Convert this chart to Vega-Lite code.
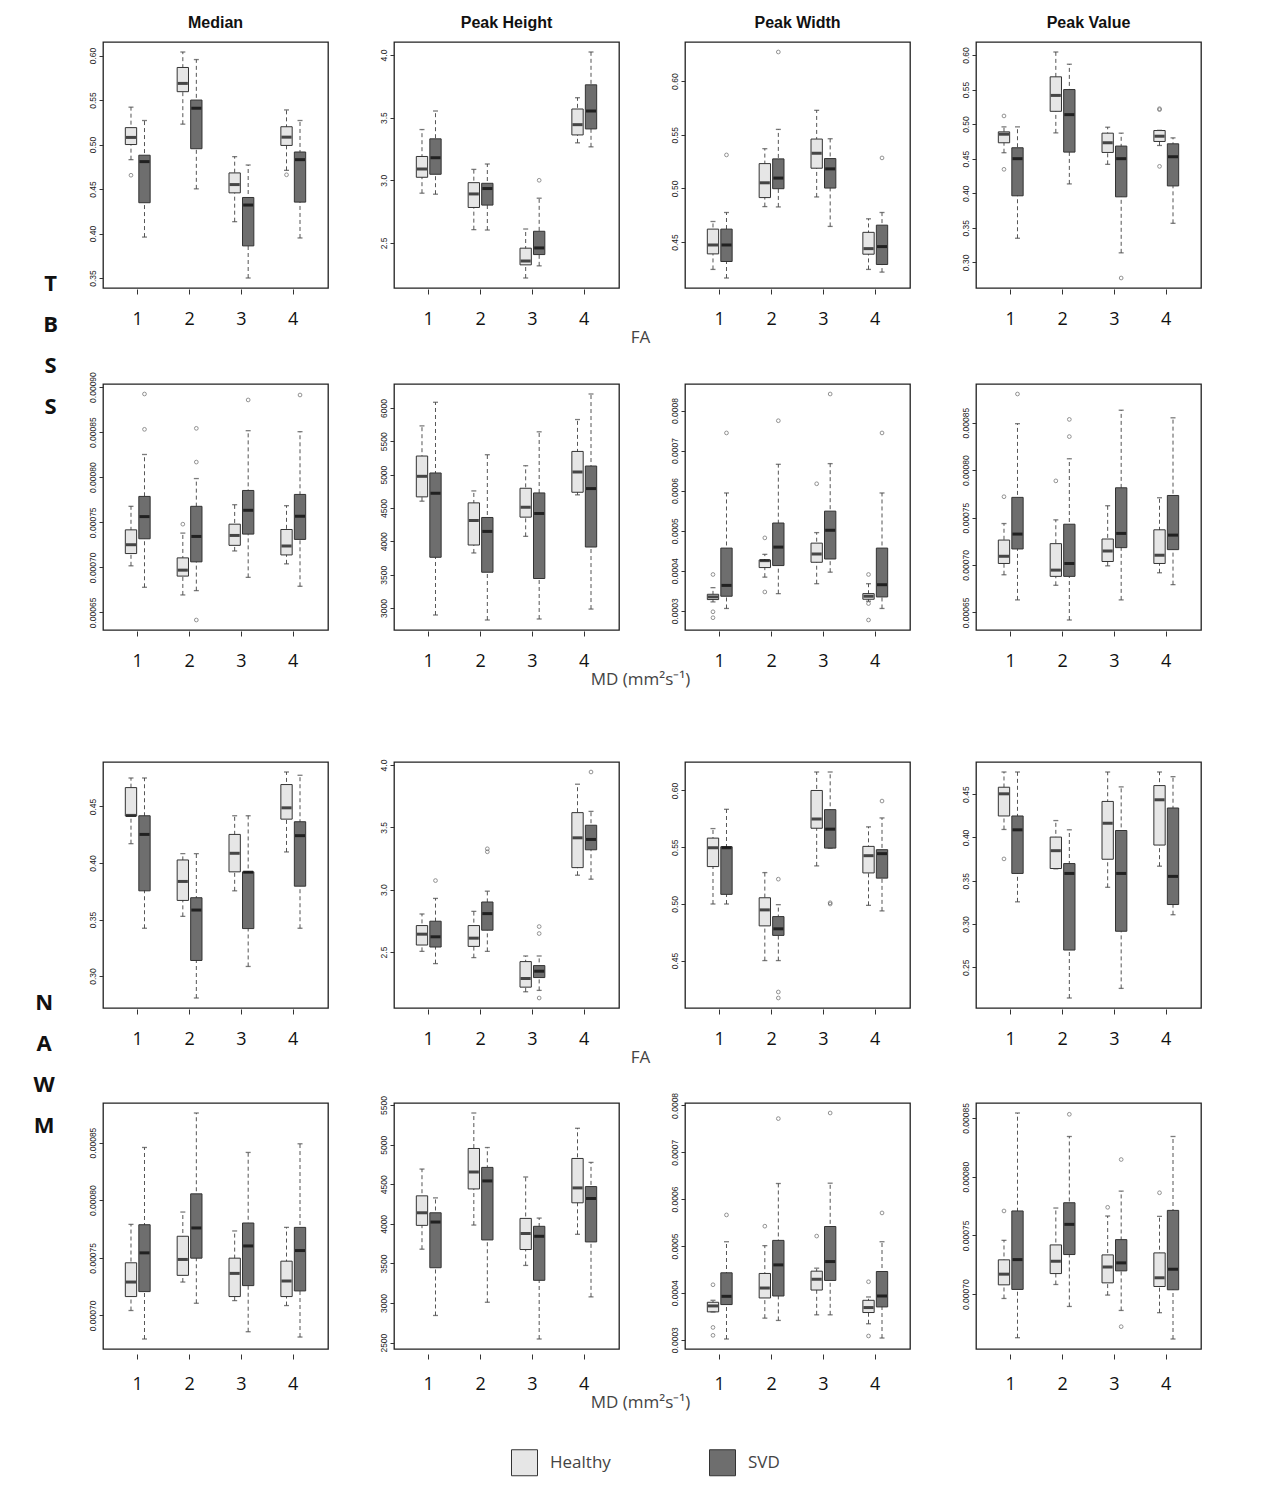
{
"$schema": "https://vega.github.io/schema/vega-lite/v6.json",
"padding": {"left": 33, "top": 15, "right": 5, "bottom": 5},
"background": "white",
"config": {
  "view": {"stroke": "#222", "strokeWidth": 1.3},
  "axisX": {"labelFontSize": 18, "labelFont": "Open Sans", "labelColor": "#111", "labelAngle": 0, "tickSize": 5, "tickColor": "#333", "domain": false, "labelPadding": 16, "grid": false},
  "axisY": {"labelFontSize": 8.5, "labelFont": "Liberation Sans", "labelColor": "#222", "labelAngle": -90, "labelAlign": "center", "labelBaseline": "bottom", "tickSize": 4, "tickColor": "#333", "domain": false, "grid": false, "labelPadding": 2, "tickCount": 6}
},
"datasets": {"d": [
{"a":"TBSS","m":"FA","f":"Median","g":"1","c":"Healthy","lo":0.483,"q1":0.5,"md":0.508,"q3":0.519,"hi":0.542},
{"a":"TBSS","m":"FA","f":"Median","g":"1","c":"SVD","lo":0.396,"q1":0.4346,"md":0.4808,"q3":0.488,"hi":0.527},
{"a":"TBSS","m":"FA","f":"Median","g":"2","c":"Healthy","lo":0.5229,"q1":0.5594,"md":0.5687,"q3":0.5866,"hi":0.604},
{"a":"TBSS","m":"FA","f":"Median","g":"2","c":"SVD","lo":0.4502,"q1":0.4953,"md":0.5408,"q3":0.55,"hi":0.5955},
{"a":"TBSS","m":"FA","f":"Median","g":"3","c":"Healthy","lo":0.4133,"q1":0.4457,"md":0.455,"q3":0.4681,"hi":0.4864},
{"a":"TBSS","m":"FA","f":"Median","g":"3","c":"SVD","lo":0.35,"q1":0.3861,"md":0.432,"q3":0.4405,"hi":0.477},
{"a":"TBSS","m":"FA","f":"Median","g":"4","c":"Healthy","lo":0.471,"q1":0.499,"md":0.5083,"q3":0.52,"hi":0.5389},
{"a":"TBSS","m":"FA","f":"Median","g":"4","c":"SVD","lo":0.395,"q1":0.4353,"md":0.483,"q3":0.4916,"hi":0.527},
{"a":"TBSS","m":"FA","f":"Peak Height","g":"1","c":"Healthy","lo":2.897,"q1":3.024,"md":3.09,"q3":3.19,"hi":3.405},
{"a":"TBSS","m":"FA","f":"Peak Height","g":"1","c":"SVD","lo":2.889,"q1":3.048,"md":3.18,"q3":3.331,"hi":3.553},
{"a":"TBSS","m":"FA","f":"Peak Height","g":"2","c":"Healthy","lo":2.606,"q1":2.783,"md":2.891,"q3":2.981,"hi":3.087},
{"a":"TBSS","m":"FA","f":"Peak Height","g":"2","c":"SVD","lo":2.603,"q1":2.802,"md":2.934,"q3":2.976,"hi":3.13},
{"a":"TBSS","m":"FA","f":"Peak Height","g":"3","c":"Healthy","lo":2.22,"q1":2.325,"md":2.355,"q3":2.458,"hi":2.611},
{"a":"TBSS","m":"FA","f":"Peak Height","g":"3","c":"SVD","lo":2.317,"q1":2.407,"md":2.46,"q3":2.593,"hi":2.857},
{"a":"TBSS","m":"FA","f":"Peak Height","g":"4","c":"Healthy","lo":3.299,"q1":3.362,"md":3.444,"q3":3.569,"hi":3.659},
{"a":"TBSS","m":"FA","f":"Peak Height","g":"4","c":"SVD","lo":3.267,"q1":3.41,"md":3.553,"q3":3.762,"hi":4.024},
{"a":"TBSS","m":"FA","f":"Peak Width","g":"1","c":"Healthy","lo":0.4244,"q1":0.4389,"md":0.4472,"q3":0.462,"hi":0.4691},
{"a":"TBSS","m":"FA","f":"Peak Width","g":"1","c":"SVD","lo":0.4164,"q1":0.4318,"md":0.4472,"q3":0.462,"hi":0.4775},
{"a":"TBSS","m":"FA","f":"Peak Width","g":"2","c":"Healthy","lo":0.483,"q1":0.4914,"md":0.5052,"q3":0.5231,"hi":0.537},
{"a":"TBSS","m":"FA","f":"Peak Width","g":"2","c":"SVD","lo":0.4827,"q1":0.4997,"md":0.5096,"q3":0.5275,"hi":0.555},
{"a":"TBSS","m":"FA","f":"Peak Width","g":"3","c":"Healthy","lo":0.492,"q1":0.5188,"md":0.5327,"q3":0.546,"hi":0.5728},
{"a":"TBSS","m":"FA","f":"Peak Width","g":"3","c":"SVD","lo":0.4645,"q1":0.5003,"md":0.5182,"q3":0.5278,"hi":0.5463},
{"a":"TBSS","m":"FA","f":"Peak Width","g":"4","c":"Healthy","lo":0.4244,"q1":0.4386,"md":0.4438,"q3":0.459,"hi":0.4716},
{"a":"TBSS","m":"FA","f":"Peak Width","g":"4","c":"SVD","lo":0.4219,"q1":0.429,"md":0.4457,"q3":0.4657,"hi":0.4775},
{"a":"TBSS","m":"FA","f":"Peak Value","g":"1","c":"Healthy","lo":0.4586,"q1":0.473,"md":0.4854,"q3":0.4888,"hi":0.496},
{"a":"TBSS","m":"FA","f":"Peak Value","g":"1","c":"SVD","lo":0.3349,"q1":0.3963,"md":0.45,"q3":0.4658,"hi":0.496},
{"a":"TBSS","m":"FA","f":"Peak Value","g":"2","c":"Healthy","lo":0.4873,"q1":0.5185,"md":0.5415,"q3":0.5684,"hi":0.6043},
{"a":"TBSS","m":"FA","f":"Peak Value","g":"2","c":"SVD","lo":0.4135,"q1":0.4595,"md":0.5137,"q3":0.55,"hi":0.5866},
{"a":"TBSS","m":"FA","f":"Peak Value","g":"3","c":"Healthy","lo":0.4418,"q1":0.459,"md":0.473,"q3":0.4869,"hi":0.4955},
{"a":"TBSS","m":"FA","f":"Peak Value","g":"3","c":"SVD","lo":0.3138,"q1":0.3948,"md":0.45,"q3":0.4682,"hi":0.4869},
{"a":"TBSS","m":"FA","f":"Peak Value","g":"4","c":"Healthy","lo":0.4691,"q1":0.4749,"md":0.4825,"q3":0.4907,"hi":0.491},
{"a":"TBSS","m":"FA","f":"Peak Value","g":"4","c":"SVD","lo":0.3565,"q1":0.4106,"md":0.4528,"q3":0.4715,"hi":0.4801},
{"a":"TBSS","m":"MD","f":"Median","g":"1","c":"Healthy","lo":0.0007017,"q1":0.0007153,"md":0.0007251,"q3":0.0007416,"hi":0.0007677},
{"a":"TBSS","m":"MD","f":"Median","g":"1","c":"SVD","lo":0.0006779,"q1":0.0007317,"md":0.0007563,"q3":0.0007787,"hi":0.0008252},
{"a":"TBSS","m":"MD","f":"Median","g":"2","c":"Healthy","lo":0.0006694,"q1":0.0006903,"md":0.0006969,"q3":0.0007105,"hi":0.000738},
{"a":"TBSS","m":"MD","f":"Median","g":"2","c":"SVD","lo":0.0006742,"q1":0.0007061,"md":0.0007343,"q3":0.0007677,"hi":0.0007985},
{"a":"TBSS","m":"MD","f":"Median","g":"3","c":"Healthy","lo":0.0007182,"q1":0.0007244,"md":0.0007354,"q3":0.0007479,"hi":0.0007695},
{"a":"TBSS","m":"MD","f":"Median","g":"3","c":"SVD","lo":0.0006889,"q1":0.0007369,"md":0.0007633,"q3":0.0007853,"hi":0.0008516},
{"a":"TBSS","m":"MD","f":"Median","g":"4","c":"Healthy","lo":0.0007039,"q1":0.0007138,"md":0.0007237,"q3":0.000742,"hi":0.0007684},
{"a":"TBSS","m":"MD","f":"Median","g":"4","c":"SVD","lo":0.000679,"q1":0.000731,"md":0.0007567,"q3":0.0007809,"hi":0.0008505},
{"a":"TBSS","m":"MD","f":"Peak Height","g":"1","c":"Healthy","lo":4602,"q1":4667,"md":4975,"q3":5279,"hi":5731},
{"a":"TBSS","m":"MD","f":"Peak Height","g":"1","c":"SVD","lo":2896,"q1":3761,"md":4721,"q3":5025,"hi":6085},
{"a":"TBSS","m":"MD","f":"Peak Height","g":"2","c":"Healthy","lo":3826,"q1":3945,"md":4313,"q3":4577,"hi":4756},
{"a":"TBSS","m":"MD","f":"Peak Height","g":"2","c":"SVD","lo":2821,"q1":3537,"md":4149,"q3":4358,"hi":5299},
{"a":"TBSS","m":"MD","f":"Peak Height","g":"3","c":"Healthy","lo":4075,"q1":4363,"md":4512,"q3":4796,"hi":5134},
{"a":"TBSS","m":"MD","f":"Peak Height","g":"3","c":"SVD","lo":2836,"q1":3443,"md":4418,"q3":4726,"hi":5642},
{"a":"TBSS","m":"MD","f":"Peak Height","g":"4","c":"Healthy","lo":4697,"q1":4736,"md":5040,"q3":5348,"hi":5826},
{"a":"TBSS","m":"MD","f":"Peak Height","g":"4","c":"SVD","lo":2985,"q1":3915,"md":4791,"q3":5129,"hi":6209},
{"a":"TBSS","m":"MD","f":"Peak Width","g":"1","c":"Healthy","lo":0.0003222,"q1":0.000328,"md":0.0003346,"q3":0.0003412,"hi":0.0003577},
{"a":"TBSS","m":"MD","f":"Peak Width","g":"1","c":"SVD","lo":0.0003058,"q1":0.0003363,"md":0.0003634,"q3":0.0004565,"hi":0.0005941},
{"a":"TBSS","m":"MD","f":"Peak Width","g":"2","c":"Healthy","lo":0.000384,"q1":0.0004079,"md":0.0004252,"q3":0.0004269,"hi":0.0004409},
{"a":"TBSS","m":"MD","f":"Peak Width","g":"2","c":"SVD","lo":0.0003428,"q1":0.0004129,"md":0.000459,"q3":0.0005191,"hi":0.0006657},
{"a":"TBSS","m":"MD","f":"Peak Width","g":"3","c":"Healthy","lo":0.0003676,"q1":0.0004211,"md":0.0004417,"q3":0.0004689,"hi":0.0004952},
{"a":"TBSS","m":"MD","f":"Peak Width","g":"3","c":"SVD","lo":0.0003964,"q1":0.0004293,"md":0.000501,"q3":0.0005488,"hi":0.0006674},
{"a":"TBSS","m":"MD","f":"Peak Width","g":"4","c":"Healthy","lo":0.0003239,"q1":0.0003288,"md":0.0003363,"q3":0.0003429,"hi":0.0003676},
{"a":"TBSS","m":"MD","f":"Peak Width","g":"4","c":"SVD","lo":0.0003058,"q1":0.0003346,"md":0.0003651,"q3":0.0004565,"hi":0.0005941},
{"a":"TBSS","m":"MD","f":"Peak Value","g":"1","c":"Healthy","lo":0.0006897,"q1":0.0007016,"md":0.0007092,"q3":0.0007263,"hi":0.0007437},
{"a":"TBSS","m":"MD","f":"Peak Value","g":"1","c":"SVD","lo":0.0006632,"q1":0.0007169,"md":0.0007326,"q3":0.0007713,"hi":0.000849},
{"a":"TBSS","m":"MD","f":"Peak Value","g":"2","c":"Healthy","lo":0.0006786,"q1":0.000688,"md":0.0006946,"q3":0.0007225,"hi":0.0007476},
{"a":"TBSS","m":"MD","f":"Peak Value","g":"2","c":"SVD","lo":0.000642,"q1":0.000688,"md":0.0007016,"q3":0.000743,"hi":0.000812},
{"a":"TBSS","m":"MD","f":"Peak Value","g":"3","c":"Healthy","lo":0.0006991,"q1":0.0007037,"md":0.0007148,"q3":0.0007274,"hi":0.0007625},
{"a":"TBSS","m":"MD","f":"Peak Value","g":"3","c":"SVD","lo":0.0006632,"q1":0.0007183,"md":0.0007333,"q3":0.0007814,"hi":0.0008632},
{"a":"TBSS","m":"MD","f":"Peak Value","g":"4","c":"Healthy","lo":0.0006918,"q1":0.0007016,"md":0.0007103,"q3":0.0007371,"hi":0.0007709},
{"a":"TBSS","m":"MD","f":"Peak Value","g":"4","c":"SVD","lo":0.0006793,"q1":0.0007162,"md":0.0007315,"q3":0.0007733,"hi":0.0008552},
{"a":"NAWM","m":"FA","f":"Median","g":"1","c":"Healthy","lo":0.4171,"q1":0.4415,"md":0.4421,"q3":0.4667,"hi":0.4752},
{"a":"NAWM","m":"FA","f":"Median","g":"1","c":"SVD","lo":0.3423,"q1":0.3754,"md":0.4253,"q3":0.4418,"hi":0.4752},
{"a":"NAWM","m":"FA","f":"Median","g":"2","c":"Healthy","lo":0.3528,"q1":0.3669,"md":0.3837,"q3":0.4027,"hi":0.4083},
{"a":"NAWM","m":"FA","f":"Median","g":"2","c":"SVD","lo":0.2806,"q1":0.3138,"md":0.3584,"q3":0.3693,"hi":0.4083},
{"a":"NAWM","m":"FA","f":"Median","g":"3","c":"Healthy","lo":0.3754,"q1":0.3922,"md":0.4086,"q3":0.4253,"hi":0.4418},
{"a":"NAWM","m":"FA","f":"Median","g":"3","c":"SVD","lo":0.3085,"q1":0.342,"md":0.3919,"q3":0.3922,"hi":0.4418},
{"a":"NAWM","m":"FA","f":"Median","g":"4","c":"Healthy","lo":0.4098,"q1":0.4388,"md":0.4488,"q3":0.4694,"hi":0.4805},
{"a":"NAWM","m":"FA","f":"Median","g":"4","c":"SVD","lo":0.3423,"q1":0.3795,"md":0.4242,"q3":0.4365,"hi":0.4776},
{"a":"NAWM","m":"FA","f":"Peak Height","g":"1","c":"Healthy","lo":2.505,"q1":2.556,"md":2.643,"q3":2.712,"hi":2.805},
{"a":"NAWM","m":"FA","f":"Peak Height","g":"1","c":"SVD","lo":2.407,"q1":2.54,"md":2.622,"q3":2.747,"hi":2.93},
{"a":"NAWM","m":"FA","f":"Peak Height","g":"2","c":"Healthy","lo":2.455,"q1":2.545,"md":2.611,"q3":2.712,"hi":2.826},
{"a":"NAWM","m":"FA","f":"Peak Height","g":"2","c":"SVD","lo":2.505,"q1":2.675,"md":2.808,"q3":2.901,"hi":2.988},
{"a":"NAWM","m":"FA","f":"Peak Height","g":"3","c":"Healthy","lo":2.181,"q1":2.218,"md":2.287,"q3":2.423,"hi":2.468},
{"a":"NAWM","m":"FA","f":"Peak Height","g":"3","c":"SVD","lo":2.192,"q1":2.295,"md":2.346,"q3":2.391,"hi":2.468},
{"a":"NAWM","m":"FA","f":"Peak Height","g":"4","c":"Healthy","lo":3.116,"q1":3.177,"md":3.416,"q3":3.618,"hi":3.846},
{"a":"NAWM","m":"FA","f":"Peak Height","g":"4","c":"SVD","lo":3.084,"q1":3.32,"md":3.403,"q3":3.517,"hi":3.628},
{"a":"NAWM","m":"FA","f":"Peak Width","g":"1","c":"Healthy","lo":0.4999,"q1":0.5329,"md":0.5495,"q3":0.558,"hi":0.5664},
{"a":"NAWM","m":"FA","f":"Peak Width","g":"1","c":"SVD","lo":0.4999,"q1":0.5084,"md":0.5495,"q3":0.5504,"hi":0.5834},
{"a":"NAWM","m":"FA","f":"Peak Width","g":"2","c":"Healthy","lo":0.45,"q1":0.4806,"md":0.4947,"q3":0.5054,"hi":0.5276},
{"a":"NAWM","m":"FA","f":"Peak Width","g":"2","c":"SVD","lo":0.45,"q1":0.4722,"md":0.478,"q3":0.4888,"hi":0.4993},
{"a":"NAWM","m":"FA","f":"Peak Width","g":"3","c":"Healthy","lo":0.5335,"q1":0.5667,"md":0.5749,"q3":0.6,"hi":0.6163},
{"a":"NAWM","m":"FA","f":"Peak Width","g":"3","c":"SVD","lo":0.549,"q1":0.5492,"md":0.5659,"q3":0.5831,"hi":0.6163},
{"a":"NAWM","m":"FA","f":"Peak Width","g":"4","c":"Healthy","lo":0.4987,"q1":0.5273,"md":0.5425,"q3":0.5507,"hi":0.5679},
{"a":"NAWM","m":"FA","f":"Peak Width","g":"4","c":"SVD","lo":0.4938,"q1":0.5227,"md":0.5443,"q3":0.5478,"hi":0.5758},
{"a":"NAWM","m":"FA","f":"Peak Value","g":"1","c":"Healthy","lo":0.4092,"q1":0.4248,"md":0.4504,"q3":0.458,"hi":0.4756},
{"a":"NAWM","m":"FA","f":"Peak Value","g":"1","c":"SVD","lo":0.3256,"q1":0.3584,"md":0.4088,"q3":0.4248,"hi":0.4756},
{"a":"NAWM","m":"FA","f":"Peak Value","g":"2","c":"Healthy","lo":0.3637,"q1":0.3641,"md":0.3847,"q3":0.4004,"hi":0.4195},
{"a":"NAWM","m":"FA","f":"Peak Value","g":"2","c":"SVD","lo":0.2145,"q1":0.2699,"md":0.3584,"q3":0.3698,"hi":0.4088},
{"a":"NAWM","m":"FA","f":"Peak Value","g":"3","c":"Healthy","lo":0.3424,"q1":0.3748,"md":0.4164,"q3":0.4416,"hi":0.4756},
{"a":"NAWM","m":"FA","f":"Peak Value","g":"3","c":"SVD","lo":0.2256,"q1":0.2916,"md":0.3584,"q3":0.408,"hi":0.4584},
{"a":"NAWM","m":"FA","f":"Peak Value","g":"4","c":"Healthy","lo":0.3668,"q1":0.3912,"md":0.4435,"q3":0.4599,"hi":0.4756},
{"a":"NAWM","m":"FA","f":"Peak Value","g":"4","c":"SVD","lo":0.3107,"q1":0.3225,"md":0.355,"q3":0.434,"hi":0.4702},
{"a":"NAWM","m":"MD","f":"Median","g":"1","c":"Healthy","lo":0.0007043,"q1":0.0007164,"md":0.000729,"q3":0.0007457,"hi":0.000779},
{"a":"NAWM","m":"MD","f":"Median","g":"1","c":"SVD","lo":0.0006796,"q1":0.0007207,"md":0.0007543,"q3":0.0007787,"hi":0.0008457},
{"a":"NAWM","m":"MD","f":"Median","g":"2","c":"Healthy","lo":0.000729,"q1":0.0007348,"md":0.0007486,"q3":0.0007687,"hi":0.0007897},
{"a":"NAWM","m":"MD","f":"Median","g":"2","c":"SVD","lo":0.0007106,"q1":0.0007497,"md":0.0007759,"q3":0.0008055,"hi":0.0008756},
{"a":"NAWM","m":"MD","f":"Median","g":"3","c":"Healthy","lo":0.0007129,"q1":0.0007164,"md":0.0007365,"q3":0.0007497,"hi":0.0007733},
{"a":"NAWM","m":"MD","f":"Median","g":"3","c":"SVD","lo":0.0006859,"q1":0.0007259,"md":0.0007603,"q3":0.0007802,"hi":0.0008414},
{"a":"NAWM","m":"MD","f":"Median","g":"4","c":"Healthy","lo":0.0007086,"q1":0.0007164,"md":0.0007299,"q3":0.0007471,"hi":0.0007764},
{"a":"NAWM","m":"MD","f":"Median","g":"4","c":"SVD","lo":0.0006813,"q1":0.0007213,"md":0.0007563,"q3":0.0007764,"hi":0.0008489},
{"a":"NAWM","m":"MD","f":"Peak Height","g":"1","c":"Healthy","lo":3680,"q1":3981,"md":4140,"q3":4354,"hi":4692},
{"a":"NAWM","m":"MD","f":"Peak Height","g":"1","c":"SVD","lo":2843,"q1":3446,"md":4023,"q3":4140,"hi":4328},
{"a":"NAWM","m":"MD","f":"Peak Height","g":"2","c":"Healthy","lo":3985,"q1":4441,"md":4655,"q3":4952,"hi":5400},
{"a":"NAWM","m":"MD","f":"Peak Height","g":"2","c":"SVD","lo":3010,"q1":3797,"md":4542,"q3":4713,"hi":4964},
{"a":"NAWM","m":"MD","f":"Peak Height","g":"3","c":"Healthy","lo":3475,"q1":3676,"md":3877,"q3":4069,"hi":4592},
{"a":"NAWM","m":"MD","f":"Peak Height","g":"3","c":"SVD","lo":2546,"q1":3287,"md":3843,"q3":3969,"hi":4073},
{"a":"NAWM","m":"MD","f":"Peak Height","g":"4","c":"Healthy","lo":3868,"q1":4266,"md":4454,"q3":4826,"hi":5207},
{"a":"NAWM","m":"MD","f":"Peak Height","g":"4","c":"SVD","lo":3078,"q1":3772,"md":4320,"q3":4471,"hi":4776},
{"a":"NAWM","m":"MD","f":"Peak Width","g":"1","c":"Healthy","lo":0.000359,"q1":0.0003593,"md":0.000372,"q3":0.0003798,"hi":0.000384},
{"a":"NAWM","m":"MD","f":"Peak Width","g":"1","c":"SVD","lo":0.0003014,"q1":0.0003749,"md":0.0003925,"q3":0.0004427,"hi":0.000509},
{"a":"NAWM","m":"MD","f":"Peak Width","g":"2","c":"Healthy","lo":0.0003459,"q1":0.000389,"md":0.0004102,"q3":0.0004413,"hi":0.0005006},
{"a":"NAWM","m":"MD","f":"Peak Width","g":"2","c":"SVD","lo":0.000341,"q1":0.0003932,"md":0.0004596,"q3":0.0005119,"hi":0.0006333},
{"a":"NAWM","m":"MD","f":"Peak Width","g":"3","c":"Healthy","lo":0.000353,"q1":0.0004059,"md":0.0004292,"q3":0.0004462,"hi":0.0004526},
{"a":"NAWM","m":"MD","f":"Peak Width","g":"3","c":"SVD","lo":0.000353,"q1":0.0004264,"md":0.0004667,"q3":0.0005415,"hi":0.000634},
{"a":"NAWM","m":"MD","f":"Peak Width","g":"4","c":"Healthy","lo":0.0003339,"q1":0.0003579,"md":0.0003685,"q3":0.000384,"hi":0.0003911},
{"a":"NAWM","m":"MD","f":"Peak Width","g":"4","c":"SVD","lo":0.0003035,"q1":0.0003699,"md":0.0003932,"q3":0.0004455,"hi":0.000509},
{"a":"NAWM","m":"MD","f":"Peak Value","g":"1","c":"Healthy","lo":0.0006963,"q1":0.0007079,"md":0.000717,"q3":0.0007292,"hi":0.0007458},
{"a":"NAWM","m":"MD","f":"Peak Value","g":"1","c":"SVD","lo":0.0006629,"q1":0.000704,"md":0.0007294,"q3":0.0007708,"hi":0.0008542},
{"a":"NAWM","m":"MD","f":"Peak Value","g":"2","c":"Healthy","lo":0.0007082,"q1":0.0007175,"md":0.000728,"q3":0.0007419,"hi":0.0007733},
{"a":"NAWM","m":"MD","f":"Peak Value","g":"2","c":"SVD","lo":0.0006895,"q1":0.0007337,"md":0.0007594,"q3":0.0007778,"hi":0.0008342},
{"a":"NAWM","m":"MD","f":"Peak Value","g":"3","c":"Healthy","lo":0.0006992,"q1":0.0007096,"md":0.0007232,"q3":0.0007334,"hi":0.0007665},
{"a":"NAWM","m":"MD","f":"Peak Value","g":"3","c":"SVD","lo":0.0006861,"q1":0.0007198,"md":0.0007266,"q3":0.0007464,"hi":0.0007877},
{"a":"NAWM","m":"MD","f":"Peak Value","g":"4","c":"Healthy","lo":0.0006842,"q1":0.0007065,"md":0.0007139,"q3":0.0007351,"hi":0.0007662},
{"a":"NAWM","m":"MD","f":"Peak Value","g":"4","c":"SVD","lo":0.0006618,"q1":0.0007037,"md":0.0007212,"q3":0.0007713,"hi":0.0008342},
{"a":"TBSS","m":"FA","f":"Median","g":"1","c":"Healthy","v":0.4655},
{"a":"TBSS","m":"FA","f":"Median","g":"4","c":"Healthy","v":0.466},
{"a":"TBSS","m":"FA","f":"Peak Height","g":"3","c":"SVD","v":3.0},
{"a":"TBSS","m":"FA","f":"Peak Width","g":"1","c":"SVD","v":0.5312},
{"a":"TBSS","m":"FA","f":"Peak Width","g":"2","c":"SVD","v":0.6272},
{"a":"TBSS","m":"FA","f":"Peak Width","g":"4","c":"SVD","v":0.5284},
{"a":"TBSS","m":"FA","f":"Peak Value","g":"1","c":"Healthy","v":0.5118},
{"a":"TBSS","m":"FA","f":"Peak Value","g":"1","c":"Healthy","v":0.4346},
{"a":"TBSS","m":"FA","f":"Peak Value","g":"3","c":"SVD","v":0.2774},
{"a":"TBSS","m":"FA","f":"Peak Value","g":"4","c":"Healthy","v":0.5209},
{"a":"TBSS","m":"FA","f":"Peak Value","g":"4","c":"Healthy","v":0.5223},
{"a":"TBSS","m":"FA","f":"Peak Value","g":"4","c":"Healthy","v":0.4389},
{"a":"TBSS","m":"MD","f":"Median","g":"1","c":"SVD","v":0.0008923},
{"a":"TBSS","m":"MD","f":"Median","g":"1","c":"SVD","v":0.0008531},
{"a":"TBSS","m":"MD","f":"Median","g":"2","c":"Healthy","v":0.0007479},
{"a":"TBSS","m":"MD","f":"Median","g":"2","c":"SVD","v":0.0008542},
{"a":"TBSS","m":"MD","f":"Median","g":"2","c":"SVD","v":0.0008168},
{"a":"TBSS","m":"MD","f":"Median","g":"2","c":"SVD","v":0.0006416},
{"a":"TBSS","m":"MD","f":"Median","g":"3","c":"SVD","v":0.0008857},
{"a":"TBSS","m":"MD","f":"Median","g":"4","c":"SVD","v":0.0008912},
{"a":"TBSS","m":"MD","f":"Peak Width","g":"1","c":"Healthy","v":0.0003906},
{"a":"TBSS","m":"MD","f":"Peak Width","g":"1","c":"Healthy","v":0.0002975},
{"a":"TBSS","m":"MD","f":"Peak Width","g":"1","c":"Healthy","v":0.0002827},
{"a":"TBSS","m":"MD","f":"Peak Width","g":"1","c":"SVD","v":0.000744},
{"a":"TBSS","m":"MD","f":"Peak Width","g":"2","c":"Healthy","v":0.000482},
{"a":"TBSS","m":"MD","f":"Peak Width","g":"2","c":"Healthy","v":0.000347},
{"a":"TBSS","m":"MD","f":"Peak Width","g":"2","c":"SVD","v":0.0007745},
{"a":"TBSS","m":"MD","f":"Peak Width","g":"3","c":"Healthy","v":0.0006171},
{"a":"TBSS","m":"MD","f":"Peak Width","g":"3","c":"SVD","v":0.0008412},
{"a":"TBSS","m":"MD","f":"Peak Width","g":"4","c":"Healthy","v":0.0003906},
{"a":"TBSS","m":"MD","f":"Peak Width","g":"4","c":"Healthy","v":0.0003181},
{"a":"TBSS","m":"MD","f":"Peak Width","g":"4","c":"Healthy","v":0.000277},
{"a":"TBSS","m":"MD","f":"Peak Width","g":"4","c":"SVD","v":0.000744},
{"a":"TBSS","m":"MD","f":"Peak Value","g":"1","c":"Healthy","v":0.000772},
{"a":"TBSS","m":"MD","f":"Peak Value","g":"1","c":"SVD","v":0.0008803},
{"a":"TBSS","m":"MD","f":"Peak Value","g":"2","c":"Healthy","v":0.0007887},
{"a":"TBSS","m":"MD","f":"Peak Value","g":"2","c":"SVD","v":0.0008535},
{"a":"TBSS","m":"MD","f":"Peak Value","g":"2","c":"SVD","v":0.0008354},
{"a":"NAWM","m":"FA","f":"Peak Height","g":"1","c":"SVD","v":3.073},
{"a":"NAWM","m":"FA","f":"Peak Height","g":"2","c":"SVD","v":3.328},
{"a":"NAWM","m":"FA","f":"Peak Height","g":"2","c":"SVD","v":3.304},
{"a":"NAWM","m":"FA","f":"Peak Height","g":"3","c":"SVD","v":2.704},
{"a":"NAWM","m":"FA","f":"Peak Height","g":"3","c":"SVD","v":2.648},
{"a":"NAWM","m":"FA","f":"Peak Height","g":"3","c":"SVD","v":2.131},
{"a":"NAWM","m":"FA","f":"Peak Height","g":"4","c":"SVD","v":3.944},
{"a":"NAWM","m":"FA","f":"Peak Width","g":"2","c":"SVD","v":0.5218},
{"a":"NAWM","m":"FA","f":"Peak Width","g":"2","c":"SVD","v":0.4223},
{"a":"NAWM","m":"FA","f":"Peak Width","g":"2","c":"SVD","v":0.417},
{"a":"NAWM","m":"FA","f":"Peak Width","g":"3","c":"SVD","v":0.4999},
{"a":"NAWM","m":"FA","f":"Peak Width","g":"3","c":"SVD","v":0.501},
{"a":"NAWM","m":"FA","f":"Peak Width","g":"4","c":"SVD","v":0.5907},
{"a":"NAWM","m":"FA","f":"Peak Value","g":"1","c":"Healthy","v":0.3752},
{"a":"NAWM","m":"MD","f":"Peak Width","g":"1","c":"Healthy","v":0.0004172},
{"a":"NAWM","m":"MD","f":"Peak Width","g":"1","c":"Healthy","v":0.0003261},
{"a":"NAWM","m":"MD","f":"Peak Width","g":"1","c":"Healthy","v":0.0003092},
{"a":"NAWM","m":"MD","f":"Peak Width","g":"1","c":"SVD","v":0.0005662},
{"a":"NAWM","m":"MD","f":"Peak Width","g":"2","c":"Healthy","v":0.0005422},
{"a":"NAWM","m":"MD","f":"Peak Width","g":"2","c":"SVD","v":0.0007718},
{"a":"NAWM","m":"MD","f":"Peak Width","g":"3","c":"Healthy","v":0.0005211},
{"a":"NAWM","m":"MD","f":"Peak Width","g":"3","c":"SVD","v":0.0007838},
{"a":"NAWM","m":"MD","f":"Peak Width","g":"4","c":"Healthy","v":0.0004236},
{"a":"NAWM","m":"MD","f":"Peak Width","g":"4","c":"Healthy","v":0.0003078},
{"a":"NAWM","m":"MD","f":"Peak Width","g":"4","c":"SVD","v":0.0005705},
{"a":"NAWM","m":"MD","f":"Peak Value","g":"1","c":"Healthy","v":0.0007708},
{"a":"NAWM","m":"MD","f":"Peak Value","g":"2","c":"SVD","v":0.0008531},
{"a":"NAWM","m":"MD","f":"Peak Value","g":"3","c":"Healthy","v":0.0007739},
{"a":"NAWM","m":"MD","f":"Peak Value","g":"3","c":"SVD","v":0.0008146},
{"a":"NAWM","m":"MD","f":"Peak Value","g":"3","c":"SVD","v":0.0006723},
{"a":"NAWM","m":"MD","f":"Peak Value","g":"4","c":"Healthy","v":0.0007863}
]},
"spacing": 70,
"vconcat": [
{
  "title": {"text": ["T","B","S","S"], "orient": "left", "angle": 0, "fontSize": 22, "font": "Open Sans", "fontWeight": "bold", "color": "#111", "lineHeight": 41, "anchor": "middle", "align": "center", "baseline": "middle", "offset": 22, "dy": -68},
  "spacing": 25,
  "vconcat": [
  {
    "data": {"name": "d"},
    "transform": [{"filter": "datum.a=='TBSS' && datum.m=='FA'"}],
    "title": {"text": "FA", "orient": "bottom", "fontSize": 17, "font": "Open Sans", "fontWeight": "normal", "color": "#444", "offset": 2, "anchor": "middle", "dx": -4},
    "facet": {"column": {"field": "f", "type": "nominal", "sort": ["Median","Peak Height","Peak Width","Peak Value"], "title": null, "header": {"labelFontSize": 16, "labelFont": "Liberation Sans", "labelFontWeight": "bold", "labelColor": "#111", "labelPadding": 10}}},
    "spacing": {"column": 49},
    "resolve": {"scale": {"y": "independent"}},
    "spec": {
      "width": 225, "height": 246,
      "encoding": {
        "x": {"field": "g", "type": "nominal", "title": null, "scale": {"paddingInner": 0, "paddingOuter": 0.17}},
        "xOffset": {"field": "c", "type": "nominal", "scale": {"paddingInner": 0.16, "paddingOuter": 1.67}}
      },
      "layer": [
        {"transform": [{"filter": "isValid(datum.md)"}], "mark": {"type": "rule", "strokeDash": [4,3], "color": "#555", "strokeWidth": 1}, "encoding": {"y": {"field": "lo", "type": "quantitative", "title": null, "scale": {"zero": false, "nice": false, "padding": 10}, "axis": {"labelExpr": "datum.value >= 100 ? format(datum.value, 'd') : datum.value >= 1 ? format(datum.value, '.1f') : format(datum.value, '.2f')"}}, "y2": {"field": "hi"}}},
        {"transform": [{"filter": "isValid(datum.md)"}], "mark": {"type": "bar", "stroke": "#333", "strokeWidth": 1}, "encoding": {"y": {"field": "q1", "type": "quantitative", "title": null, "scale": {"zero": false, "nice": false, "padding": 10}}, "y2": {"field": "q3"}, "color": {"field": "c", "type": "nominal", "scale": {"domain": ["Healthy","SVD"], "range": ["#e6e6e6","#6e6e6e"]}, "legend": {"orient": "none", "legendX": 408, "legendY": 1407, "direction": "horizontal", "title": null, "symbolType": "square", "symbolSize": 676, "symbolStrokeColor": "#333", "symbolStrokeWidth": 1, "labelFontSize": 17, "labelFont": "Open Sans", "labelColor": "#444", "columnPadding": 96, "labelOffset": 12}}}},
        {"transform": [{"filter": "isValid(datum.md)"}], "mark": {"type": "tick", "color": "#000", "thickness": 3, "size": 10}, "encoding": {"y": {"field": "md", "type": "quantitative", "title": null, "scale": {"zero": false, "nice": false, "padding": 10}}}},
        {"transform": [{"filter": "isValid(datum.md)"}], "mark": {"type": "tick", "color": "#444", "thickness": 1.3, "size": 5}, "encoding": {"y": {"field": "lo", "type": "quantitative", "title": null, "scale": {"zero": false, "nice": false, "padding": 10}}}},
        {"transform": [{"filter": "isValid(datum.md)"}], "mark": {"type": "tick", "color": "#444", "thickness": 1.3, "size": 5}, "encoding": {"y": {"field": "hi", "type": "quantitative", "title": null, "scale": {"zero": false, "nice": false, "padding": 10}}}},
        {"transform": [{"filter": "isValid(datum.v)"}], "mark": {"type": "point", "shape": "circle", "filled": false, "size": 14, "color": "#555", "strokeWidth": 0.9}, "encoding": {"y": {"field": "v", "type": "quantitative", "title": null, "scale": {"zero": false, "nice": false, "padding": 10}}}}
      ]
    }
  },
  {
    "data": {"name": "d"},
    "transform": [{"filter": "datum.a=='TBSS' && datum.m=='MD'"}],
    "title": {"text": "MD (mm²s⁻¹)", "orient": "bottom", "fontSize": 17, "font": "Open Sans", "fontWeight": "normal", "color": "#444", "offset": 2, "anchor": "middle", "dx": -4},
    "facet": {"column": {"field": "f", "type": "nominal", "sort": ["Median","Peak Height","Peak Width","Peak Value"], "title": null, "header": null}},
    "spacing": {"column": 49},
    "resolve": {"scale": {"y": "independent"}},
    "spec": {
      "width": 225, "height": 246,
      "encoding": {
        "x": {"field": "g", "type": "nominal", "title": null, "scale": {"paddingInner": 0, "paddingOuter": 0.17}},
        "xOffset": {"field": "c", "type": "nominal", "scale": {"paddingInner": 0.16, "paddingOuter": 1.67}}
      },
      "layer": [
        {"transform": [{"filter": "isValid(datum.md)"}], "mark": {"type": "rule", "strokeDash": [4,3], "color": "#555", "strokeWidth": 1}, "encoding": {"y": {"field": "lo", "type": "quantitative", "title": null, "scale": {"zero": false, "nice": false, "padding": 10}, "axis": {"labelExpr": "datum.value >= 100 ? format(datum.value, 'd') : (span(domain('concat_0_concat_1_child_y')) > 0.0004 ? format(datum.value, '.4f') : format(datum.value, '.5f'))"}}, "y2": {"field": "hi"}}},
        {"transform": [{"filter": "isValid(datum.md)"}], "mark": {"type": "bar", "stroke": "#333", "strokeWidth": 1}, "encoding": {"y": {"field": "q1", "type": "quantitative", "title": null, "scale": {"zero": false, "nice": false, "padding": 10}}, "y2": {"field": "q3"}, "color": {"field": "c", "type": "nominal", "legend": null}}},
        {"transform": [{"filter": "isValid(datum.md)"}], "mark": {"type": "tick", "color": "#000", "thickness": 3, "size": 10}, "encoding": {"y": {"field": "md", "type": "quantitative", "title": null, "scale": {"zero": false, "nice": false, "padding": 10}}}},
        {"transform": [{"filter": "isValid(datum.md)"}], "mark": {"type": "tick", "color": "#444", "thickness": 1.3, "size": 5}, "encoding": {"y": {"field": "lo", "type": "quantitative", "title": null, "scale": {"zero": false, "nice": false, "padding": 10}}}},
        {"transform": [{"filter": "isValid(datum.md)"}], "mark": {"type": "tick", "color": "#444", "thickness": 1.3, "size": 5}, "encoding": {"y": {"field": "hi", "type": "quantitative", "title": null, "scale": {"zero": false, "nice": false, "padding": 10}}}},
        {"transform": [{"filter": "isValid(datum.v)"}], "mark": {"type": "point", "shape": "circle", "filled": false, "size": 14, "color": "#555", "strokeWidth": 0.9}, "encoding": {"y": {"field": "v", "type": "quantitative", "title": null, "scale": {"zero": false, "nice": false, "padding": 10}}}}
      ]
    }
  }
  ]
},
{
  "title": {"text": ["N","A","W","M"], "orient": "left", "angle": 0, "fontSize": 22, "font": "Open Sans", "fontWeight": "bold", "color": "#111", "lineHeight": 41, "anchor": "middle", "align": "center", "baseline": "middle", "offset": 22, "dy": -82},
  "spacing": 25,
  "vconcat": [
  {
    "data": {"name": "d"},
    "transform": [{"filter": "datum.a=='NAWM' && datum.m=='FA'"}],
    "title": {"text": "FA", "orient": "bottom", "fontSize": 17, "font": "Open Sans", "fontWeight": "normal", "color": "#444", "offset": 2, "anchor": "middle", "dx": -4},
    "facet": {"column": {"field": "f", "type": "nominal", "sort": ["Median","Peak Height","Peak Width","Peak Value"], "title": null, "header": null}},
    "spacing": {"column": 49},
    "resolve": {"scale": {"y": "independent"}},
    "spec": {
      "width": 225, "height": 246,
      "encoding": {
        "x": {"field": "g", "type": "nominal", "title": null, "scale": {"paddingInner": 0, "paddingOuter": 0.17}},
        "xOffset": {"field": "c", "type": "nominal", "scale": {"paddingInner": 0.16, "paddingOuter": 1.67}}
      },
      "layer": [
        {"transform": [{"filter": "isValid(datum.md)"}], "mark": {"type": "rule", "strokeDash": [4,3], "color": "#555", "strokeWidth": 1}, "encoding": {"y": {"field": "lo", "type": "quantitative", "title": null, "scale": {"zero": false, "nice": false, "padding": 10}, "axis": {"labelExpr": "datum.value >= 100 ? format(datum.value, 'd') : datum.value >= 1 ? format(datum.value, '.1f') : format(datum.value, '.2f')"}}, "y2": {"field": "hi"}}},
        {"transform": [{"filter": "isValid(datum.md)"}], "mark": {"type": "bar", "stroke": "#333", "strokeWidth": 1}, "encoding": {"y": {"field": "q1", "type": "quantitative", "title": null, "scale": {"zero": false, "nice": false, "padding": 10}}, "y2": {"field": "q3"}, "color": {"field": "c", "type": "nominal", "legend": null}}},
        {"transform": [{"filter": "isValid(datum.md)"}], "mark": {"type": "tick", "color": "#000", "thickness": 3, "size": 10}, "encoding": {"y": {"field": "md", "type": "quantitative", "title": null, "scale": {"zero": false, "nice": false, "padding": 10}}}},
        {"transform": [{"filter": "isValid(datum.md)"}], "mark": {"type": "tick", "color": "#444", "thickness": 1.3, "size": 5}, "encoding": {"y": {"field": "lo", "type": "quantitative", "title": null, "scale": {"zero": false, "nice": false, "padding": 10}}}},
        {"transform": [{"filter": "isValid(datum.md)"}], "mark": {"type": "tick", "color": "#444", "thickness": 1.3, "size": 5}, "encoding": {"y": {"field": "hi", "type": "quantitative", "title": null, "scale": {"zero": false, "nice": false, "padding": 10}}}},
        {"transform": [{"filter": "isValid(datum.v)"}], "mark": {"type": "point", "shape": "circle", "filled": false, "size": 14, "color": "#555", "strokeWidth": 0.9}, "encoding": {"y": {"field": "v", "type": "quantitative", "title": null, "scale": {"zero": false, "nice": false, "padding": 10}}}}
      ]
    }
  },
  {
    "data": {"name": "d"},
    "transform": [{"filter": "datum.a=='NAWM' && datum.m=='MD'"}],
    "title": {"text": "MD (mm²s⁻¹)", "orient": "bottom", "fontSize": 17, "font": "Open Sans", "fontWeight": "normal", "color": "#444", "offset": 2, "anchor": "middle", "dx": -4},
    "facet": {"column": {"field": "f", "type": "nominal", "sort": ["Median","Peak Height","Peak Width","Peak Value"], "title": null, "header": null}},
    "spacing": {"column": 49},
    "resolve": {"scale": {"y": "independent"}},
    "spec": {
      "width": 225, "height": 246,
      "encoding": {
        "x": {"field": "g", "type": "nominal", "title": null, "scale": {"paddingInner": 0, "paddingOuter": 0.17}},
        "xOffset": {"field": "c", "type": "nominal", "scale": {"paddingInner": 0.16, "paddingOuter": 1.67}}
      },
      "layer": [
        {"transform": [{"filter": "isValid(datum.md)"}], "mark": {"type": "rule", "strokeDash": [4,3], "color": "#555", "strokeWidth": 1}, "encoding": {"y": {"field": "lo", "type": "quantitative", "title": null, "scale": {"zero": false, "nice": false, "padding": 10}, "axis": {"labelExpr": "datum.value >= 100 ? format(datum.value, 'd') : (span(domain('concat_1_concat_1_child_y')) > 0.0004 ? format(datum.value, '.4f') : format(datum.value, '.5f'))"}}, "y2": {"field": "hi"}}},
        {"transform": [{"filter": "isValid(datum.md)"}], "mark": {"type": "bar", "stroke": "#333", "strokeWidth": 1}, "encoding": {"y": {"field": "q1", "type": "quantitative", "title": null, "scale": {"zero": false, "nice": false, "padding": 10}}, "y2": {"field": "q3"}, "color": {"field": "c", "type": "nominal", "legend": null}}},
        {"transform": [{"filter": "isValid(datum.md)"}], "mark": {"type": "tick", "color": "#000", "thickness": 3, "size": 10}, "encoding": {"y": {"field": "md", "type": "quantitative", "title": null, "scale": {"zero": false, "nice": false, "padding": 10}}}},
        {"transform": [{"filter": "isValid(datum.md)"}], "mark": {"type": "tick", "color": "#444", "thickness": 1.3, "size": 5}, "encoding": {"y": {"field": "lo", "type": "quantitative", "title": null, "scale": {"zero": false, "nice": false, "padding": 10}}}},
        {"transform": [{"filter": "isValid(datum.md)"}], "mark": {"type": "tick", "color": "#444", "thickness": 1.3, "size": 5}, "encoding": {"y": {"field": "hi", "type": "quantitative", "title": null, "scale": {"zero": false, "nice": false, "padding": 10}}}},
        {"transform": [{"filter": "isValid(datum.v)"}], "mark": {"type": "point", "shape": "circle", "filled": false, "size": 14, "color": "#555", "strokeWidth": 0.9}, "encoding": {"y": {"field": "v", "type": "quantitative", "title": null, "scale": {"zero": false, "nice": false, "padding": 10}}}}
      ]
    }
  }
  ]
}
]
}
